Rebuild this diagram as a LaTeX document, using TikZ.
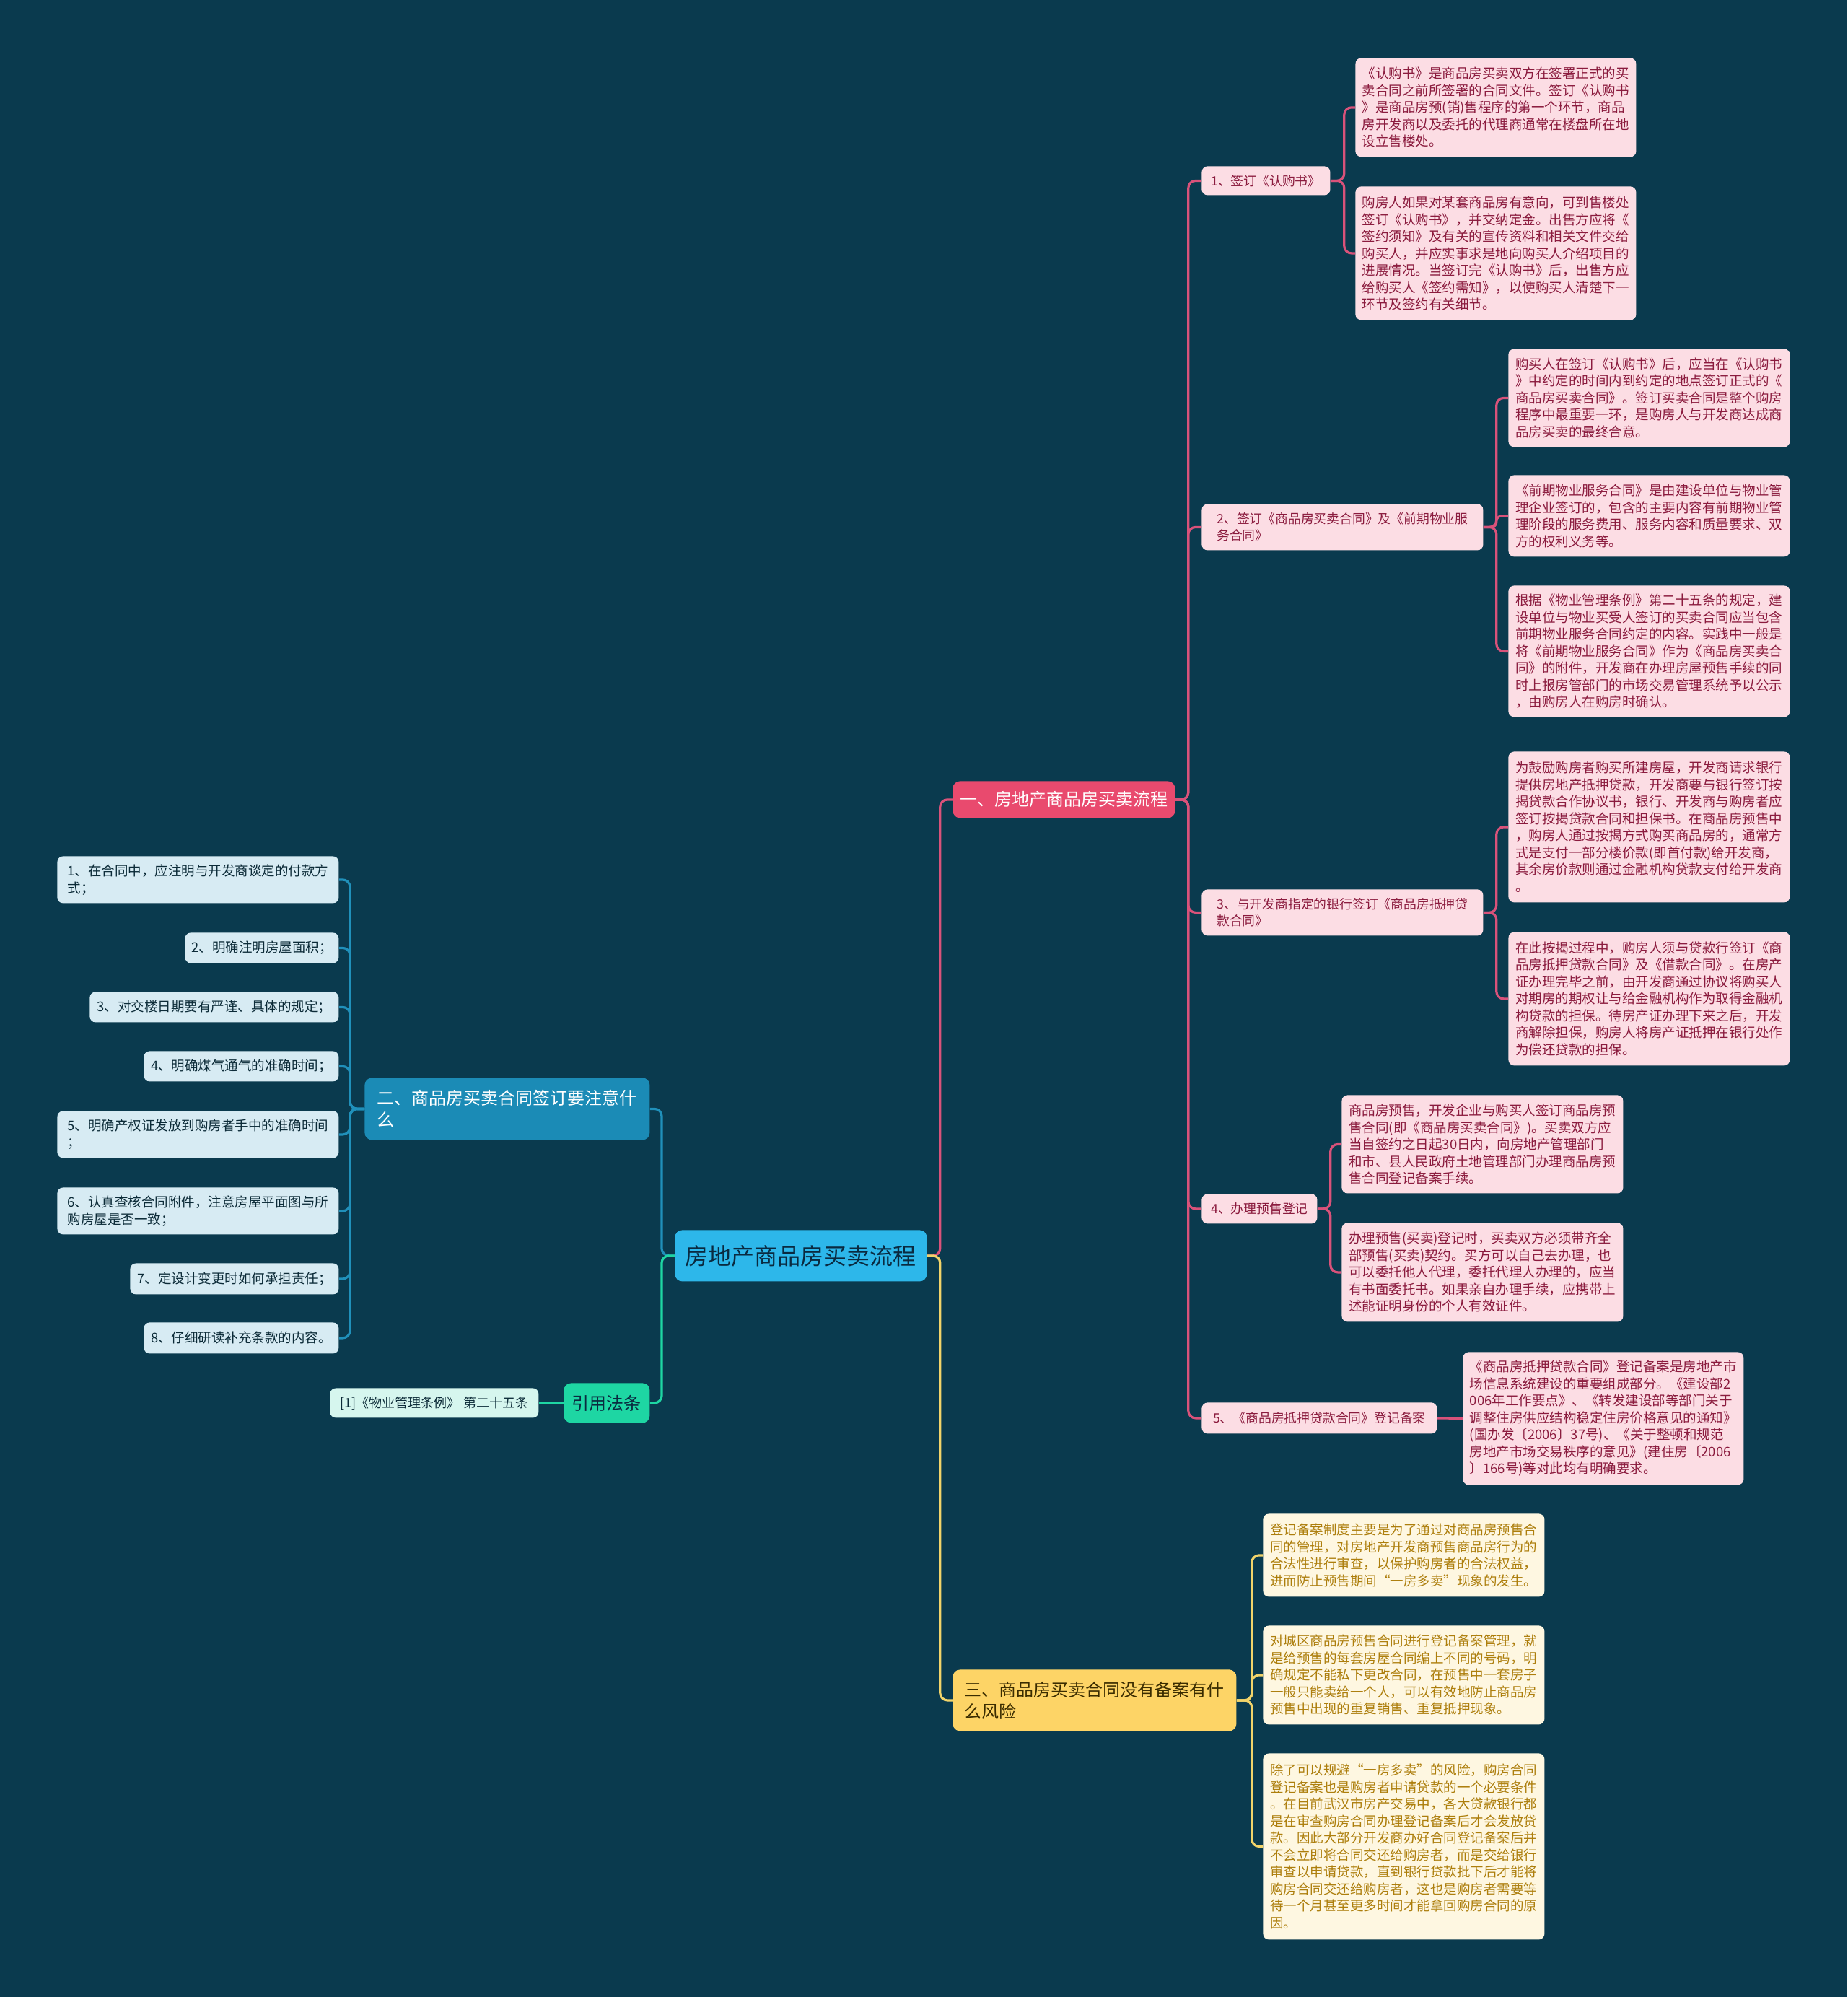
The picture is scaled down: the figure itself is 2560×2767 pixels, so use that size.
\documentclass[tikz,border=0pt]{standalone}
\usepackage{fontspec}
\setmainfont{Noto Sans CJK SC}
\definecolor{bg}{HTML}{0A3A4E}
\definecolor{rootc}{HTML}{2DB7EA}
\definecolor{redc}{HTML}{E94A6E}
\definecolor{yelc}{HTML}{FDD466}
\definecolor{bluc}{HTML}{1B8BB6}
\definecolor{grnc}{HTML}{1ED6A3}
\definecolor{pinkfill}{HTML}{FCDDE4}
\definecolor{pinktext}{HTML}{8B1B3E}
\definecolor{yelfill}{HTML}{FEF7E1}
\definecolor{yeltext}{HTML}{AD7E0C}
\definecolor{blufill}{HTML}{D7EBF3}
\definecolor{blutext}{HTML}{0C2B38}
\definecolor{grnfill}{HTML}{D6F6EE}
\definecolor{pinkline}{HTML}{D9527A}
\definecolor{yelline}{HTML}{F2D46A}
\definecolor{bluline}{HTML}{2090BA}
\definecolor{grnline}{HTML}{1ED6A3}
\definecolor{darktxt}{HTML}{0A2A40}
\definecolor{yeldark}{HTML}{3A2C00}
\begin{document}
\begin{tikzpicture}[x=0.5pt,y=-0.5pt,
  box/.style={rounded corners=4pt, inner xsep=3pt, inner ysep=2pt, align=left, anchor=north west},
  leafp/.style={box, fill=pinkfill, text=pinktext, font=\fontsize{9.25}{11.75}\selectfont},
  leafy/.style={box, fill=yelfill, text=yeltext, font=\fontsize{9.25}{11.75}\selectfont},
  leafb/.style={box, fill=blufill, text=blutext, font=\fontsize{9.25}{11.75}\selectfont},
  leafg/.style={box, fill=grnfill, text=blutext, font=\fontsize{9}{11.5}\selectfont},
  midp/.style={box, fill=pinkfill, text=pinktext, font=\fontsize{8.9}{11.5}\selectfont},
  topbox/.style={box, rounded corners=5pt, font=\fontsize{12}{15}\selectfont},
  conn/.style={line width=1.6pt, rounded corners=5pt},
  pl/.style={conn, draw=pinkline},
  yl/.style={conn, draw=yelline},
  bl/.style={conn, draw=bluline},
  gl/.style={conn, draw=grnline}]
\useasboundingbox (0,0) rectangle (2560,2767);
\fill[bg] (0,0) rectangle (2560,2767);

% root
\node[box, rounded corners=5pt, fill=rootc, text=darktxt, font=\fontsize{16}{19}\selectfont, minimum width=174.5pt, minimum height=35.5pt] (root) at (935,1704) {房地产商品房买卖流程};

% level 1
\node[topbox, fill=redc, text=white, minimum width=154pt, minimum height=25.5pt] (r1) at (1320,1082) {一、房地产商品房买卖流程};
\node[topbox, fill=yelc, text=yeldark, minimum width=196.5pt, minimum height=42.5pt] (r3) at (1320,2313) {三、商品房买卖合同没有备案有什\\么风险};
\node[topbox, fill=bluc, text=white, minimum width=197.5pt, minimum height=43pt] (r2) at (505,1493) {二、商品房买卖合同签订要注意什\\么};
\node[topbox, fill=grnc, text=darktxt, minimum width=59.5pt, minimum height=27.5pt] (r4) at (781,1916) {引用法条};

% level 2 (pink)
\node[midp, minimum width=89pt, minimum height=20pt] (n1) at (1665,230) {1、签订《认购书》};
\node[midp, minimum width=195pt, minimum height=32pt] (n2) at (1665,698) {2、签订《商品房买卖合同》及《前期物业服\\务合同》};
\node[midp, minimum width=195pt, minimum height=32pt] (n3) at (1665,1232) {3、与开发商指定的银行签订《商品房抵押贷\\款合同》};
\node[midp, minimum width=80pt, minimum height=20.5pt] (n4) at (1665,1654) {4、办理预售登记};
\node[midp, minimum width=163pt, minimum height=21.5pt] (n5) at (1665,1943) {5、《商品房抵押贷款合同》登记备案};

% leaves of 1
\node[leafp, minimum width=194.5pt, minimum height=68.5pt] (a1) at (1878,80) {《认购书》是商品房买卖双方在签署正式的买\\卖合同之前所签署的合同文件。签订《认购书\\》是商品房预(销)售程序的第一个环节，商品\\房开发商以及委托的代理商通常在楼盘所在地\\设立售楼处。};
\node[leafp, minimum width=194.5pt, minimum height=92.5pt] (a2) at (1878,258) {购房人如果对某套商品房有意向，可到售楼处\\签订《认购书》，并交纳定金。出售方应将《\\签约须知》及有关的宣传资料和相关文件交给\\购买人，并应实事求是地向购买人介绍项目的\\进展情况。当签订完《认购书》后，出售方应\\给购买人《签约需知》，以使购买人清楚下一\\环节及签约有关细节。};

% leaves of 2
\node[leafp, minimum width=195pt, minimum height=68pt] (b1) at (2090,483) {购买人在签订《认购书》后，应当在《认购书\\》中约定的时间内到约定的地点签订正式的《\\商品房买卖合同》。签订买卖合同是整个购房\\程序中最重要一环，是购房人与开发商达成商\\品房买卖的最终合意。};
\node[leafp, minimum width=195pt, minimum height=56.5pt] (b2) at (2090,658) {《前期物业服务合同》是由建设单位与物业管\\理企业签订的，包含的主要内容有前期物业管\\理阶段的服务费用、服务内容和质量要求、双\\方的权利义务等。};
\node[leafp, minimum width=195pt, minimum height=91pt] (b3) at (2090,811) {根据《物业管理条例》第二十五条的规定，建\\设单位与物业买受人签订的买卖合同应当包含\\前期物业服务合同约定的内容。实践中一般是\\将《前期物业服务合同》作为《商品房买卖合\\同》的附件，开发商在办理房屋预售手续的同\\时上报房管部门的市场交易管理系统予以公示\\，由购房人在购房时确认。};

% leaves of 3
\node[leafp, minimum width=195pt, minimum height=104.5pt] (c1) at (2090,1041) {为鼓励购房者购买所建房屋，开发商请求银行\\提供房地产抵押贷款，开发商要与银行签订按\\揭贷款合作协议书，银行、开发商与购房者应\\签订按揭贷款合同和担保书。在商品房预售中\\，购房人通过按揭方式购买商品房的，通常方\\式是支付一部分楼价款(即首付款)给开发商，\\其余房价款则通过金融机构贷款支付给开发商\\。};
\node[leafp, minimum width=195pt, minimum height=92.5pt] (c2) at (2090,1291) {在此按揭过程中，购房人须与贷款行签订《商\\品房抵押贷款合同》及《借款合同》。在房产\\证办理完毕之前，由开发商通过协议将购买人\\对期房的期权让与给金融机构作为取得金融机\\构贷款的担保。待房产证办理下来之后，开发\\商解除担保，购房人将房产证抵押在银行处作\\为偿还贷款的担保。};

% leaves of 4
\node[leafp, minimum width=195pt, minimum height=68pt] (d1) at (1859,1517) {商品房预售，开发企业与购买人签订商品房预\\售合同(即《商品房买卖合同》)。买卖双方应\\当自签约之日起30日内，向房地产管理部门\\和市、县人民政府土地管理部门办理商品房预\\售合同登记备案手续。};
\node[leafp, minimum width=195pt, minimum height=68.5pt] (d2) at (1859,1694) {办理预售(买卖)登记时，买卖双方必须带齐全\\部预售(买卖)契约。买方可以自己去办理，也\\可以委托他人代理，委托代理人办理的，应当\\有书面委托书。如果亲自办理手续，应携带上\\述能证明身份的个人有效证件。};

% leaf of 5
\node[leafp, minimum width=194.5pt, minimum height=92pt] (e1) at (2027,1873) {《商品房抵押贷款合同》登记备案是房地产市\\场信息系统建设的重要组成部分。《建设部2\\006年工作要点》、《转发建设部等部门关于\\调整住房供应结构稳定住房价格意见的通知》\\(国办发〔2006〕37号)、《关于整顿和规范\\房地产市场交易秩序的意见》(建住房〔2006\\〕166号)等对此均有明确要求。};

% leaves of 三
\node[leafy, minimum width=195pt, minimum height=57.5pt] (f1) at (1750,2097) {登记备案制度主要是为了通过对商品房预售合\\同的管理，对房地产开发商预售商品房行为的\\合法性进行审查，以保护购房者的合法权益，\\进而防止预售期间“一房多卖”现象的发生。};
\node[leafy, minimum width=195pt, minimum height=68.5pt] (f2) at (1750,2252) {对城区商品房预售合同进行登记备案管理，就\\是给预售的每套房屋合同编上不同的号码，明\\确规定不能私下更改合同，在预售中一套房子\\一般只能卖给一个人，可以有效地防止商品房\\预售中出现的重复销售、重复抵押现象。};
\node[leafy, minimum width=195pt, minimum height=129pt] (f3) at (1750,2429) {除了可以规避“一房多卖”的风险，购房合同\\登记备案也是购房者申请贷款的一个必要条件\\。在目前武汉市房产交易中，各大贷款银行都\\是在审查购房合同办理登记备案后才会发放贷\\款。因此大部分开发商办好合同登记备案后并\\不会立即将合同交还给购房者，而是交给银行\\审查以申请贷款，直到银行贷款批下后才能将\\购房合同交还给购房者，这也是购房者需要等\\待一个月甚至更多时间才能拿回购房合同的原\\因。};

% left leaves
\node[leafb, minimum width=195pt, minimum height=32.5pt] (l1) at (79,1186) {1、在合同中，应注明与开发商谈定的付款方\\式；};
\node[leafb, minimum width=106.5pt, minimum height=21pt] (l2) at (256,1292) {2、明确注明房屋面积；};
\node[leafb, minimum width=172.5pt, minimum height=21pt] (l3) at (124,1374) {3、对交楼日期要有严谨、具体的规定；};
\node[leafb, minimum width=135pt, minimum height=21pt] (l4) at (199,1456) {4、明确煤气通气的准确时间；};
\node[leafb, minimum width=195pt, minimum height=32.5pt] (l5) at (79,1539) {5、明确产权证发放到购房者手中的准确时间\\；};
\node[leafb, minimum width=195pt, minimum height=32.5pt] (l6) at (79,1645) {6、认真查核合同附件，注意房屋平面图与所\\购房屋是否一致；};
\node[leafb, minimum width=144.5pt, minimum height=21.5pt] (l7) at (180,1750) {7、定设计变更时如何承担责任；};
\node[leafb, minimum width=135pt, minimum height=21.5pt] (l8) at (199,1832) {8、仔细研读补充条款的内容。};

\node[leafg, minimum width=144.5pt, minimum height=20.5pt] (ref) at (457,1923) {[1]《物业管理条例》 第二十五条};

% connectors: root
\draw[pl] (root.east) -- ([xshift=9pt]root.east) |- (r1.west);
\draw[yl] (root.east) -- ([xshift=9pt]root.east) |- (r3.west);
\draw[bl] (root.west) -- ([xshift=-9pt]root.west) |- (r2.east);
\draw[gl] (root.west) -- ([xshift=-9pt]root.west) |- (r4.east);

% 一 subtree
\foreach \c in {n1,n2,n3,n4,n5}
  \draw[pl] (r1.east) -- ([xshift=9pt]r1.east) |- (\c.west);
\foreach \c in {a1,a2}
  \draw[pl] (n1.east) -- ([xshift=9.5pt]n1.east) |- (\c.west);
\draw[pl] (n2.east) -- ([xshift=9pt]n2.east) |- (b1.west);
\draw[pl, rounded corners=3.5pt] (n2.east) -- ([xshift=9pt]n2.east) |- (b2.west);
\draw[pl] (n2.east) -- ([xshift=9pt]n2.east) |- (b3.west);
\foreach \c in {c1,c2}
  \draw[pl] (n3.east) -- ([xshift=9pt]n3.east) |- (\c.west);
\foreach \c in {d1,d2}
  \draw[pl] (n4.east) -- ([xshift=9pt]n4.east) |- (\c.west);
\draw[pl] (n5.east) -- (e1.west);

% 三 subtree
\foreach \c in {f1,f2,f3}
  \draw[yl] (r3.east) -- ([xshift=10.5pt]r3.east) |- (\c.west);

% 二 subtree
\foreach \c in {l1,l2,l3,l4,l5,l6,l7,l8}
  \draw[bl] (r2.west) -- ([xshift=-10pt]r2.west) |- (\c.east);

% 引用法条
\draw[gl] (r4.west) -- (ref.east);
\end{tikzpicture}
\end{document}
